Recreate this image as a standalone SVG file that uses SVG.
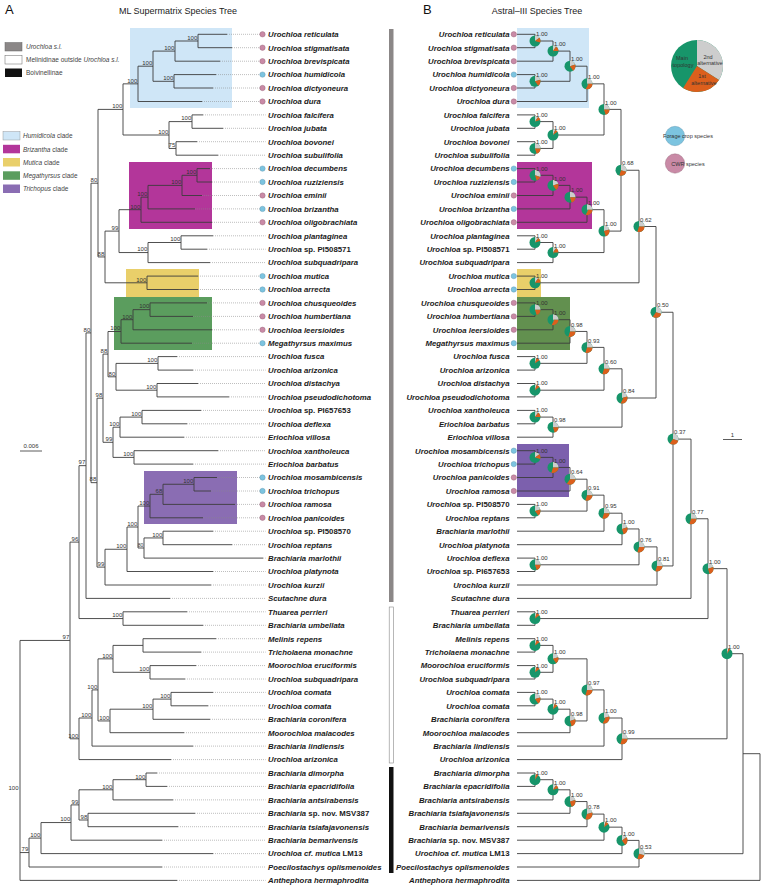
<svg xmlns="http://www.w3.org/2000/svg" width="763" height="885" viewBox="0 0 763 885">
<style>
text{font-family:"Liberation Sans",Arial,sans-serif}
.t{font-size:7.8px;font-weight:bold;font-style:italic;fill:#1a1a1a}
.e{text-anchor:end}
.n{font-style:normal}
.s{font-size:6px;fill:#333}
.lg{font-size:6.5px;fill:#444}
.lgi{font-style:italic}
.ti{font-size:9px;fill:#222;text-anchor:middle}
.big{font-size:13px;fill:#111}
.pl{font-size:5.5px;fill:#333;text-anchor:middle}
.br{fill:none;stroke:#3c3c3c;stroke-width:0.9}
.dot{fill:none;stroke:#8a8a8a;stroke-width:0.7;stroke-dasharray:0.8 1.2}
.cb{fill:#7cc4e0;stroke:#5a8fa8;stroke-width:0.4}
.cp{fill:#c98aa6;stroke:#8f5f74;stroke-width:0.4}
.pg{fill:#17956a}
.py{fill:none;stroke:#cdcdcd;stroke-width:5.5}
.po{fill:none;stroke:#dc5f1c;stroke-width:5.5}
.hum{fill:#cfe6f7}
.briz{fill:#b3369a}
.mut{fill:#e9cf6a}
.meg{fill:#5b9d5e}
.megr{fill:#62904f}
.tri{fill:#8a6db3}
.trir{fill:#7c60ad}
</style>

<!-- titles -->
<text class="big" x="5" y="14">A</text>
<text class="ti" x="178" y="14">ML Supermatrix Species Tree</text>
<text class="big" x="423" y="14">B</text>
<text class="ti" x="537" y="14">Astral–III Species Tree</text>

<!-- left legend -->
<g id="legend-groups">
<rect x="5" y="42.5" width="17" height="8.5" fill="#8b8787" stroke="#666" stroke-width="0.5"/>
<text class="lg lgi" x="26" y="49">Urochloa s.l.</text>
<rect x="5" y="55.5" width="17" height="8.5" fill="#fff" stroke="#666" stroke-width="0.5"/>
<text class="lg" x="26" y="62">Melinidinae outside <tspan class="lgi">Urochloa s.l.</tspan></text>
<rect x="5" y="68.5" width="17" height="8.5" fill="#111"/>
<text class="lg" x="26" y="75">Boivinellinae</text>
</g>
<g id="legend-clades">
<rect class="hum" x="3" y="131.5" width="17" height="8.5" stroke="#888" stroke-width="0.4"/>
<text class="lg" x="23" y="138.2"><tspan class="lgi">Humidicola</tspan> clade</text>
<rect class="briz" x="3" y="144.8" width="17" height="8.5"/>
<text class="lg" x="23" y="151.5"><tspan class="lgi">Brizantha</tspan> clade</text>
<rect class="mut" x="3" y="158" width="17" height="8.5"/>
<text class="lg" x="23" y="164.7"><tspan class="lgi">Mutica</tspan> clade</text>
<rect class="meg" x="3" y="171.3" width="17" height="8.5"/>
<text class="lg" x="23" y="178"><tspan class="lgi">Megathyrsus</tspan> clade</text>
<rect class="tri" x="3" y="184.5" width="17" height="8.5"/>
<text class="lg" x="23" y="191.2"><tspan class="lgi">Trichopus</tspan> clade</text>
</g>

<!-- scale bars -->
<g id="scale-left">
<text class="s" x="31" y="448" text-anchor="middle">0.006</text>
<line x1="20" y1="451" x2="42" y2="451" stroke="#333" stroke-width="0.8"/>
</g>
<g id="scale-right">
<text class="s" x="732.5" y="437" text-anchor="middle">1</text>
<line x1="723" y1="439.5" x2="742" y2="439.5" stroke="#333" stroke-width="0.8"/>
</g>

<!-- group bars -->
<g id="group-bars">
<rect x="389" y="29" width="4.5" height="573" fill="#8b8787"/>
<rect x="389.2" y="607" width="4.1" height="156" fill="#fff" stroke="#888" stroke-width="0.6"/>
<rect x="389" y="767" width="4.5" height="106" fill="#111"/>
</g>

<!-- clade boxes -->
<g id="clade-boxes">
<rect class="hum" x="130" y="28" width="102" height="80"/>
<rect class="briz" x="129" y="162" width="83" height="67"/>
<rect class="mut" x="126" y="269" width="73" height="28"/>
<rect class="meg" x="114" y="297" width="98" height="53"/>
<rect class="tri" x="144" y="471" width="93" height="53"/>
<rect class="hum" x="517" y="28" width="72" height="80"/>
<rect class="briz" x="517" y="162" width="75" height="67"/>
<rect class="mut" x="517" y="269" width="24" height="28"/>
<rect class="megr" x="517" y="297" width="53" height="53"/>
<rect class="trir" x="517" y="444" width="52" height="53"/>
</g>

<!-- connectors -->
<g id="connectors">
<path class="dot" d="M227 34.3H259.8M232 47.7H259.8M220 61.2H259.8M216 74.6H259.8M213 88H259.8M202 101.5H259.8M203 114.9H265.5M223 128.3H265.5M197 141.7H265.5M218 155.2H265.5M210 168.6H259.8M212 182H259.8M202 195.5H259.8M195 208.9H259.8M212 222.3H259.8M213 235.8H265.5M207 249.2H265.5M210 262.6H265.5M198 276.1H259.8M198 289.5H259.8M207 302.9H259.8M193 316.4H259.8M212 329.8H259.8M192 343.2H259.8M177 356.6H265.5M193 370.1H265.5M198 383.5H265.5M229 396.9H265.5M201 410.4H265.5M187 423.8H265.5M184 437.2H265.5M218 450.7H265.5M193 464.1H265.5M217 477.5H259.8M211 491H259.8M235 504.4H259.8M203 517.8H259.8M213 531.2H265.5M232 544.7H265.5M263 558.1H265.5M213 571.5H265.5M211 585H265.5M170 598.4H265.5M187 611.8H265.5M203 625.3H265.5M216 638.7H265.5M201 652.1H265.5M196 665.6H265.5M185 679H265.5M213 692.4H265.5M208 705.8H265.5M210 719.3H265.5M184 732.7H265.5M193 746.1H265.5M171 759.6H265.5M157 773H265.5M167 786.4H265.5M173 799.9H265.5M195 813.3H265.5M178 826.7H265.5M162 840.2H265.5M213 853.6H265.5M162 867H265.5M177 880.4H265.5"/>
<g id="left-branches" class="br">
<path d="M227 34.3H198V47.7H232"/>
<path d="M198 41H175V61.2H220"/>
<path d="M216 74.6H174V88H213"/>
<path d="M175 51.1H153V81.3H174"/>
<path d="M153 66.2H138V101.5H202"/>
<path d="M203 114.9H192V128.3H223"/>
<path d="M197 141.7H176V155.2H218"/>
<path d="M192 121.6H169V148.45H176"/>
<path d="M138 83.85H123V135H169"/>
<path d="M210 168.6H197V182H212"/>
<path d="M197 175.3H182V195.5H202"/>
<path d="M182 185.4H148V208.9H195"/>
<path d="M148 197.15H141V222.3H212"/>
<path d="M213 235.8H181V249.2H207"/>
<path d="M181 242.5H148V262.6H210"/>
<path d="M141 209.7H119V252.55H148"/>
<path d="M198 276.1H147V289.5H198"/>
<path d="M119 231.1H105V282.8H147"/>
<path d="M123 109.4H98V256.95H105"/>
<path d="M207 302.9H150V316.4H193"/>
<path d="M150 309.65H133V329.8H212"/>
<path d="M133 319.7H121V343.2H192"/>
<path d="M177 356.6H158V370.1H193"/>
<path d="M198 383.5H157V396.9H229"/>
<path d="M158 363.4H116V390.2H157"/>
<path d="M121 331.5H108V376.8H116"/>
<path d="M201 410.4H142V423.8H187"/>
<path d="M142 417.1H120V437.2H184"/>
<path d="M218 450.7H134V464.1H193"/>
<path d="M120 427.2H113V457.4H134"/>
<path d="M108 354.1H103V442.3H113"/>
<path d="M217 477.5H194V491H211"/>
<path d="M194 484.25H163V504.4H235"/>
<path d="M163 494.3H150V517.8H203"/>
<path d="M213 531.2H163V544.7H232"/>
<path d="M163 537.95H144V558.1H263"/>
<path d="M150 506.05H138V548H144"/>
<path d="M138 527H127V571.5H213"/>
<path d="M127 549.25H105V585H211"/>
<path d="M103 398.2H97V567.1H105"/>
<path d="M98 183.2H91V482.65H97"/>
<path d="M91 332.9H86V598.4H170"/>
<path d="M187 611.8H123V625.3H203"/>
<path d="M86 465.65H79V618.55H123"/>
<path d="M216 638.7H143V652.1H201"/>
<path d="M196 665.6H150V679H185"/>
<path d="M143 645.4H113V672.3H150"/>
<path d="M213 692.4H171V705.8H208"/>
<path d="M171 699.1H153V719.3H210"/>
<path d="M153 709.2H110V732.7H184"/>
<path d="M113 658.85H98V720.95H110"/>
<path d="M98 689.9H92V746.1H193"/>
<path d="M92 718H79V759.6H171"/>
<path d="M79 542.1H70V738.8H79"/>
<path d="M157 773H146V786.4H167"/>
<path d="M146 779.7H113V799.9H173"/>
<path d="M195 813.3H88V826.7H178"/>
<path d="M113 789.8H79V820H88"/>
<path d="M79 804.9H71V840.2H162"/>
<path d="M71 822.55H41V853.6H213"/>
<path d="M41 838.1H29V867H162"/>
<path d="M70 640.45H20V880.4H177M20 852.55H29"/>
</g>
<g id="right-branches" class="br">
<path d="M517 34.3H535V47.7H517"/>
<path d="M535 41H553V61.2H517"/>
<path d="M517 74.6H535V88H517"/>
<path d="M553 51.1H570V81.3H535"/>
<path d="M570 66.2H587V101.5H517"/>
<path d="M517 114.9H535V128.3H517"/>
<path d="M517 141.7H535V155.2H517"/>
<path d="M535 121.6H553V148.45H535"/>
<path d="M587 83.85H604V135H553"/>
<path d="M517 168.6H535V182H517"/>
<path d="M535 175.3H553V195.5H517"/>
<path d="M553 185.4H570V208.9H517"/>
<path d="M570 197.15H587V222.3H517"/>
<path d="M517 235.8H535V249.2H517"/>
<path d="M535 242.5H553V262.6H517"/>
<path d="M587 209.7H604V252.55H553"/>
<path d="M604 109.4H621V231.1H604"/>
<path d="M517 276.1H535V289.5H517"/>
<path d="M621 170.25H639V282.8H535"/>
<path d="M517 302.9H535V316.4H517"/>
<path d="M535 309.65H553V329.8H517"/>
<path d="M553 319.7H570V343.2H517"/>
<path d="M517 356.6H535V370.1H517"/>
<path d="M570 331.45H587V363.35H535"/>
<path d="M517 383.5H535V396.9H517"/>
<path d="M587 347.4H604V390.2H535"/>
<path d="M517 410.4H535V423.8H517"/>
<path d="M535 417.1H553V437.2H517"/>
<path d="M604 368.8H622V427.15H553"/>
<path d="M639 226.5H656V398H622"/>
<path d="M517 450.7H535V464.1H517"/>
<path d="M535 457.4H553V477.5H517"/>
<path d="M553 467.45H570V491H517"/>
<path d="M517 504.4H535V517.8H517"/>
<path d="M570 479.2H587V511.1H535"/>
<path d="M587 495.15H604V531.2H517"/>
<path d="M604 513.2H622V544.7H517"/>
<path d="M517 558.1H535V571.5H517"/>
<path d="M622 528.95H639V564.8H535"/>
<path d="M639 546.9H657V585H517"/>
<path d="M656 312.25H673V565.95H657"/>
<path d="M673 439.1H691V598.4H517"/>
<path d="M517 611.8H535V625.3H517"/>
<path d="M691 518.75H708V618.55H535"/>
<path d="M517 638.7H535V652.1H517"/>
<path d="M517 665.6H535V679H517"/>
<path d="M535 645.4H553V672.3H535"/>
<path d="M517 692.4H535V705.8H517"/>
<path d="M535 699.1H553V719.3H517"/>
<path d="M553 709.2H570V732.7H517"/>
<path d="M553 658.85H587V720.95H570"/>
<path d="M587 689.9H604V746.1H517"/>
<path d="M604 718H622V759.6H517"/>
<path d="M708 568.65H727V738.8H622"/>
<path d="M517 773H535V786.4H517"/>
<path d="M535 779.7H553V799.9H517"/>
<path d="M553 789.8H570V813.3H517"/>
<path d="M570 801.55H587V826.7H517"/>
<path d="M587 814.1H604V840.2H517"/>
<path d="M604 827.15H622V853.6H517"/>
<path d="M622 840.4H639V867H517"/>
<path d="M727 653.7H743V853.7H639"/>
<path d="M743 753.7H760V880.4H517"/>
</g>
</g>

<!-- left support values -->
<g id="left-support" class="s" text-anchor="end">
<text x="197.3" y="39.8">100</text>
<text x="174.3" y="49.9">100</text>
<text x="173.3" y="80.1">100</text>
<text x="152.3" y="65">100</text>
<text x="137.3" y="82.6">100</text>
<text x="191.3" y="120.4">100</text>
<text x="175.3" y="147.2">75</text>
<text x="168.3" y="133.8">100</text>
<text x="122.3" y="108.2">100</text>
<text x="196.3" y="174.1">100</text>
<text x="181.3" y="184.2">100</text>
<text x="147.3" y="196">100</text>
<text x="140.3" y="208.5">100</text>
<text x="180.3" y="241.3">100</text>
<text x="147.3" y="251.3">100</text>
<text x="118.3" y="229.9">99</text>
<text x="146.3" y="281.6">100</text>
<text x="104.3" y="255.7">88</text>
<text x="97.3" y="182">80</text>
<text x="149.3" y="308.4">100</text>
<text x="132.3" y="318.5">100</text>
<text x="120.3" y="330.3">100</text>
<text x="157.3" y="362.2">100</text>
<text x="156.3" y="389">100</text>
<text x="115.3" y="375.6">80</text>
<text x="107.3" y="352.9">88</text>
<text x="141.3" y="415.9">100</text>
<text x="119.3" y="426">100</text>
<text x="133.3" y="456.2">100</text>
<text x="112.3" y="441.1">99</text>
<text x="102.3" y="397">98</text>
<text x="193.3" y="483">100</text>
<text x="162.3" y="493.1">68</text>
<text x="149.3" y="504.8">100</text>
<text x="162.3" y="536.7">100</text>
<text x="143.3" y="546.8" font-size="5">80</text>
<text x="137.3" y="525.8">100</text>
<text x="126.3" y="548">100</text>
<text x="104.3" y="565.9">99</text>
<text x="96.3" y="481.4">88</text>
<text x="90.3" y="331.7">80</text>
<text x="85.3" y="464.4">97</text>
<text x="122.3" y="617.3">100</text>
<text x="78.3" y="540.9">96</text>
<text x="149.3" y="671.1">100</text>
<text x="112.3" y="657.6">100</text>
<text x="170.3" y="697.9">100</text>
<text x="152.3" y="708">100</text>
<text x="109.3" y="719.7">100</text>
<text x="97.3" y="688.7">100</text>
<text x="91.3" y="716.8">100</text>
<text x="78.3" y="737.6">100</text>
<text x="69.3" y="639.2">97</text>
<text x="145.3" y="778.5">100</text>
<text x="112.3" y="788.6">100</text>
<text x="87.3" y="818.8">98</text>
<text x="78.3" y="803.7">99</text>
<text x="70.3" y="821.3">100</text>
<text x="40.3" y="836.9">100</text>
<text x="28.3" y="851.3">79</text>
<text x="18.5" y="790">100</text>
</g>

<!-- left taxa -->
<g id="left-taxa">
<g id="L01"><circle class="cp" cx="262.5" cy="34.3" r="2.7"/><text class="t" x="268" y="37.1">Urochloa reticulata</text></g>
<g id="L02"><circle class="cp" cx="262.5" cy="47.7" r="2.7"/><text class="t" x="268" y="50.5">Urochloa stigmatisata</text></g>
<g id="L03"><circle class="cp" cx="262.5" cy="61.2" r="2.7"/><text class="t" x="268" y="64">Urochloa brevispicata</text></g>
<g id="L04"><circle class="cb" cx="262.5" cy="74.6" r="2.7"/><text class="t" x="268" y="77.4">Urochloa humidicola</text></g>
<g id="L05"><circle class="cp" cx="262.5" cy="88" r="2.7"/><text class="t" x="268" y="90.8">Urochloa dictyoneura</text></g>
<g id="L06"><circle class="cp" cx="262.5" cy="101.5" r="2.7"/><text class="t" x="268" y="104.3">Urochloa dura</text></g>
<g id="L07"><text class="t" x="268" y="117.7">Urochloa falcifera</text></g>
<g id="L08"><text class="t" x="268" y="131.1">Urochloa jubata</text></g>
<g id="L09"><text class="t" x="268" y="144.5">Urochloa bovonei</text></g>
<g id="L10"><text class="t" x="268" y="158">Urochloa subulifolia</text></g>
<g id="L11"><circle class="cb" cx="262.5" cy="168.6" r="2.7"/><text class="t" x="268" y="171.4">Urochloa decumbens</text></g>
<g id="L12"><circle class="cb" cx="262.5" cy="182" r="2.7"/><text class="t" x="268" y="184.8">Urochloa ruziziensis</text></g>
<g id="L13"><circle class="cp" cx="262.5" cy="195.5" r="2.7"/><text class="t" x="268" y="198.3">Urochloa eminii</text></g>
<g id="L14"><circle class="cb" cx="262.5" cy="208.9" r="2.7"/><text class="t" x="268" y="211.7">Urochloa brizantha</text></g>
<g id="L15"><circle class="cp" cx="262.5" cy="222.3" r="2.7"/><text class="t" x="268" y="225.1">Urochloa oligobrachiata</text></g>
<g id="L16"><text class="t" x="268" y="238.6">Urochloa plantaginea</text></g>
<g id="L17"><text class="t" x="268" y="252">Urochloa <tspan class="n">sp. PI508571</tspan></text></g>
<g id="L18"><text class="t" x="268" y="265.4">Urochloa subquadripara</text></g>
<g id="L19"><circle class="cb" cx="262.5" cy="276.1" r="2.7"/><text class="t" x="268" y="278.9">Urochloa mutica</text></g>
<g id="L20"><circle class="cb" cx="262.5" cy="289.5" r="2.7"/><text class="t" x="268" y="292.3">Urochloa arrecta</text></g>
<g id="L21"><circle class="cp" cx="262.5" cy="302.9" r="2.7"/><text class="t" x="268" y="305.7">Urochloa chusqueoides</text></g>
<g id="L22"><circle class="cp" cx="262.5" cy="316.4" r="2.7"/><text class="t" x="268" y="319.2">Urochloa humbertiana</text></g>
<g id="L23"><circle class="cp" cx="262.5" cy="329.8" r="2.7"/><text class="t" x="268" y="332.6">Urochloa leersioides</text></g>
<g id="L24"><circle class="cb" cx="262.5" cy="343.2" r="2.7"/><text class="t" x="268" y="346">Megathyrsus maximus</text></g>
<g id="L25"><text class="t" x="268" y="359.4">Urochloa fusca</text></g>
<g id="L26"><text class="t" x="268" y="372.9">Urochloa arizonica</text></g>
<g id="L27"><text class="t" x="268" y="386.3">Urochloa distachya</text></g>
<g id="L28"><text class="t" x="268" y="399.7">Urochloa pseudodichotoma</text></g>
<g id="L29"><text class="t" x="268" y="413.2">Urochloa <tspan class="n">sp. PI657653</tspan></text></g>
<g id="L30"><text class="t" x="268" y="426.6">Urochloa deflexa</text></g>
<g id="L31"><text class="t" x="268" y="440">Eriochloa villosa</text></g>
<g id="L32"><text class="t" x="268" y="453.5">Urochloa xantholeuca</text></g>
<g id="L33"><text class="t" x="268" y="466.9">Eriochloa barbatus</text></g>
<g id="L34"><circle class="cb" cx="262.5" cy="477.5" r="2.7"/><text class="t" x="268" y="480.3">Urochloa mosambicensis</text></g>
<g id="L35"><circle class="cb" cx="262.5" cy="491" r="2.7"/><text class="t" x="268" y="493.8">Urochloa trichopus</text></g>
<g id="L36"><circle class="cp" cx="262.5" cy="504.4" r="2.7"/><text class="t" x="268" y="507.2">Urochloa ramosa</text></g>
<g id="L37"><circle class="cp" cx="262.5" cy="517.8" r="2.7"/><text class="t" x="268" y="520.6">Urochloa panicoides</text></g>
<g id="L38"><text class="t" x="268" y="534">Urochloa <tspan class="n">sp. PI508570</tspan></text></g>
<g id="L39"><text class="t" x="268" y="547.5">Urochloa reptans</text></g>
<g id="L40"><text class="t" x="268" y="560.9">Brachiaria marlothii</text></g>
<g id="L41"><text class="t" x="268" y="574.3">Urochloa platynota</text></g>
<g id="L42"><text class="t" x="268" y="587.8">Urochloa kurzii</text></g>
<g id="L43"><text class="t" x="268" y="601.2">Scutachne dura</text></g>
<g id="L44"><text class="t" x="268" y="614.6">Thuarea perrieri</text></g>
<g id="L45"><text class="t" x="268" y="628.1">Brachiaria umbellata</text></g>
<g id="L46"><text class="t" x="268" y="641.5">Melinis repens</text></g>
<g id="L47"><text class="t" x="268" y="654.9">Tricholaena monachne</text></g>
<g id="L48"><text class="t" x="268" y="668.4">Moorochloa eruciformis</text></g>
<g id="L49"><text class="t" x="268" y="681.8">Urochloa subquadripara</text></g>
<g id="L50"><text class="t" x="268" y="695.2">Urochloa comata</text></g>
<g id="L51"><text class="t" x="268" y="708.6">Urochloa comata</text></g>
<g id="L52"><text class="t" x="268" y="722.1">Brachiaria coronifera</text></g>
<g id="L53"><text class="t" x="268" y="735.5">Moorochloa malacodes</text></g>
<g id="L54"><text class="t" x="268" y="748.9">Brachiaria lindiensis</text></g>
<g id="L55"><text class="t" x="268" y="762.4">Urochloa arizonica</text></g>
<g id="L56"><text class="t" x="268" y="775.8">Brachiaria dimorpha</text></g>
<g id="L57"><text class="t" x="268" y="789.2">Brachiaria epacridifolia</text></g>
<g id="L58"><text class="t" x="268" y="802.7">Brachiaria antsirabensis</text></g>
<g id="L59"><text class="t" x="268" y="816.1">Brachiaria <tspan class="n">sp. nov. MSV387</tspan></text></g>
<g id="L60"><text class="t" x="268" y="829.5">Brachiaria tsiafajavonensis</text></g>
<g id="L61"><text class="t" x="268" y="843">Brachiaria bemarivensis</text></g>
<g id="L62"><text class="t" x="268" y="856.4">Urochloa cf. mutica <tspan class="n">LM13</tspan></text></g>
<g id="L63"><text class="t" x="268" y="869.8">Poecilostachys oplismenoides</text></g>
<g id="L64"><text class="t" x="268" y="883.2">Anthephora hermaphrodita</text></g>
</g>

<!-- right taxa -->
<g id="right-taxa">
<g id="R01"><circle class="cp" cx="513.8" cy="34.3" r="2.7"/><text class="t e" x="509.5" y="37.1">Urochloa reticulata</text></g>
<g id="R02"><circle class="cp" cx="513.8" cy="47.7" r="2.7"/><text class="t e" x="509.5" y="50.5">Urochloa stigmatisata</text></g>
<g id="R03"><circle class="cp" cx="513.8" cy="61.2" r="2.7"/><text class="t e" x="509.5" y="64">Urochloa brevispicata</text></g>
<g id="R04"><circle class="cb" cx="513.8" cy="74.6" r="2.7"/><text class="t e" x="509.5" y="77.4">Urochloa humidicola</text></g>
<g id="R05"><circle class="cp" cx="513.8" cy="88" r="2.7"/><text class="t e" x="509.5" y="90.8">Urochloa dictyoneura</text></g>
<g id="R06"><circle class="cp" cx="513.8" cy="101.5" r="2.7"/><text class="t e" x="509.5" y="104.3">Urochloa dura</text></g>
<g id="R07"><text class="t e" x="509.5" y="117.7">Urochloa falcifera</text></g>
<g id="R08"><text class="t e" x="509.5" y="131.1">Urochloa jubata</text></g>
<g id="R09"><text class="t e" x="509.5" y="144.5">Urochloa bovonei</text></g>
<g id="R10"><text class="t e" x="509.5" y="158">Urochloa subulifolia</text></g>
<g id="R11"><circle class="cb" cx="513.8" cy="168.6" r="2.7"/><text class="t e" x="509.5" y="171.4">Urochloa decumbens</text></g>
<g id="R12"><circle class="cb" cx="513.8" cy="182" r="2.7"/><text class="t e" x="509.5" y="184.8">Urochloa ruziziensis</text></g>
<g id="R13"><circle class="cp" cx="513.8" cy="195.5" r="2.7"/><text class="t e" x="509.5" y="198.3">Urochloa eminii</text></g>
<g id="R14"><circle class="cb" cx="513.8" cy="208.9" r="2.7"/><text class="t e" x="509.5" y="211.7">Urochloa brizantha</text></g>
<g id="R15"><circle class="cp" cx="513.8" cy="222.3" r="2.7"/><text class="t e" x="509.5" y="225.1">Urochloa oligobrachiata</text></g>
<g id="R16"><text class="t e" x="509.5" y="238.6">Urochloa plantaginea</text></g>
<g id="R17"><text class="t e" x="509.5" y="252">Urochloa <tspan class="n">sp. PI508571</tspan></text></g>
<g id="R18"><text class="t e" x="509.5" y="265.4">Urochloa subquadripara</text></g>
<g id="R19"><circle class="cb" cx="513.8" cy="276.1" r="2.7"/><text class="t e" x="509.5" y="278.9">Urochloa mutica</text></g>
<g id="R20"><circle class="cb" cx="513.8" cy="289.5" r="2.7"/><text class="t e" x="509.5" y="292.3">Urochloa arrecta</text></g>
<g id="R21"><circle class="cp" cx="513.8" cy="302.9" r="2.7"/><text class="t e" x="509.5" y="305.7">Urochloa chusqueoides</text></g>
<g id="R22"><circle class="cp" cx="513.8" cy="316.4" r="2.7"/><text class="t e" x="509.5" y="319.2">Urochloa humbertiana</text></g>
<g id="R23"><circle class="cp" cx="513.8" cy="329.8" r="2.7"/><text class="t e" x="509.5" y="332.6">Urochloa leersioides</text></g>
<g id="R24"><circle class="cb" cx="513.8" cy="343.2" r="2.7"/><text class="t e" x="509.5" y="346">Megathyrsus maximus</text></g>
<g id="R25"><text class="t e" x="509.5" y="359.4">Urochloa fusca</text></g>
<g id="R26"><text class="t e" x="509.5" y="372.9">Urochloa arizonica</text></g>
<g id="R27"><text class="t e" x="509.5" y="386.3">Urochloa distachya</text></g>
<g id="R28"><text class="t e" x="509.5" y="399.7">Urochloa pseudodichotoma</text></g>
<g id="R29"><text class="t e" x="509.5" y="413.2">Urochloa xantholeuca</text></g>
<g id="R30"><text class="t e" x="509.5" y="426.6">Eriochloa barbatus</text></g>
<g id="R31"><text class="t e" x="509.5" y="440">Eriochloa villosa</text></g>
<g id="R32"><circle class="cb" cx="513.8" cy="450.7" r="2.7"/><text class="t e" x="509.5" y="453.5">Urochloa mosambicensis</text></g>
<g id="R33"><circle class="cb" cx="513.8" cy="464.1" r="2.7"/><text class="t e" x="509.5" y="466.9">Urochloa trichopus</text></g>
<g id="R34"><circle class="cp" cx="513.8" cy="477.5" r="2.7"/><text class="t e" x="509.5" y="480.3">Urochloa panicoides</text></g>
<g id="R35"><circle class="cp" cx="513.8" cy="491" r="2.7"/><text class="t e" x="509.5" y="493.8">Urochloa ramosa</text></g>
<g id="R36"><text class="t e" x="509.5" y="507.2">Urochloa <tspan class="n">sp. PI508570</tspan></text></g>
<g id="R37"><text class="t e" x="509.5" y="520.6">Urochloa reptans</text></g>
<g id="R38"><text class="t e" x="509.5" y="534">Brachiaria marlothii</text></g>
<g id="R39"><text class="t e" x="509.5" y="547.5">Urochloa platynota</text></g>
<g id="R40"><text class="t e" x="509.5" y="560.9">Urochloa deflexa</text></g>
<g id="R41"><text class="t e" x="509.5" y="574.3">Urochloa <tspan class="n">sp. PI657653</tspan></text></g>
<g id="R42"><text class="t e" x="509.5" y="587.8">Urochloa kurzii</text></g>
<g id="R43"><text class="t e" x="509.5" y="601.2">Scutachne dura</text></g>
<g id="R44"><text class="t e" x="509.5" y="614.6">Thuarea perrieri</text></g>
<g id="R45"><text class="t e" x="509.5" y="628.1">Brachiaria umbellata</text></g>
<g id="R46"><text class="t e" x="509.5" y="641.5">Melinis repens</text></g>
<g id="R47"><text class="t e" x="509.5" y="654.9">Tricholaena monachne</text></g>
<g id="R48"><text class="t e" x="509.5" y="668.4">Moorochloa eruciformis</text></g>
<g id="R49"><text class="t e" x="509.5" y="681.8">Urochloa subquadripara</text></g>
<g id="R50"><text class="t e" x="509.5" y="695.2">Urochloa comata</text></g>
<g id="R51"><text class="t e" x="509.5" y="708.6">Urochloa comata</text></g>
<g id="R52"><text class="t e" x="509.5" y="722.1">Brachiaria coronifera</text></g>
<g id="R53"><text class="t e" x="509.5" y="735.5">Moorochloa malacodes</text></g>
<g id="R54"><text class="t e" x="509.5" y="748.9">Brachiaria lindiensis</text></g>
<g id="R55"><text class="t e" x="509.5" y="762.4">Urochloa arizonica</text></g>
<g id="R56"><text class="t e" x="509.5" y="775.8">Brachiaria dimorpha</text></g>
<g id="R57"><text class="t e" x="509.5" y="789.2">Brachiaria epacridifolia</text></g>
<g id="R58"><text class="t e" x="509.5" y="802.7">Brachiaria antsirabensis</text></g>
<g id="R59"><text class="t e" x="509.5" y="816.1">Brachiaria tsiafajavonensis</text></g>
<g id="R60"><text class="t e" x="509.5" y="829.5">Brachiaria bemarivensis</text></g>
<g id="R61"><text class="t e" x="509.5" y="843">Brachiaria <tspan class="n">sp. nov. MSV387</tspan></text></g>
<g id="R62"><text class="t e" x="509.5" y="856.4">Urochloa cf. mutica <tspan class="n">LM13</tspan></text></g>
<g id="R63"><text class="t e" x="509.5" y="869.8">Poecilostachys oplismenoides</text></g>
<g id="R64"><text class="t e" x="509.5" y="883.2">Anthephora hermaphrodita</text></g>
</g>

<!-- right tree pies -->
<g id="pies">
<g id="pA1"><g transform="translate(535 41) rotate(-90)"><circle class="pg" r="5.5"/><circle class="py" r="2.75" pathLength="100" stroke-dasharray="15 100"/><circle class="po" r="2.75" pathLength="100" stroke-dasharray="0 15 15 100"/></g><text class="s" x="536" y="36.2">1.00</text></g>
<g id="pA2"><g transform="translate(553 51.1) rotate(-90)"><circle class="pg" r="5.5"/><circle class="py" r="2.75" pathLength="100" stroke-dasharray="10 100"/><circle class="po" r="2.75" pathLength="100" stroke-dasharray="0 10 15 100"/></g><text class="s" x="554" y="46.3">1.00</text></g>
<g id="pA3"><g transform="translate(535 81.3) rotate(-90)"><circle class="pg" r="5.5"/><circle class="py" r="2.75" pathLength="100" stroke-dasharray="20 100"/><circle class="po" r="2.75" pathLength="100" stroke-dasharray="0 20 20 100"/></g><text class="s" x="536" y="76.5">1.00</text></g>
<g id="pA4"><g transform="translate(570 66.2) rotate(-90)"><circle class="pg" r="5.5"/><circle class="py" r="2.75" pathLength="100" stroke-dasharray="20 100"/><circle class="po" r="2.75" pathLength="100" stroke-dasharray="0 20 20 100"/></g><text class="s" x="571" y="61.4">1.00</text></g>
<g id="pA5"><g transform="translate(587 83.85) rotate(-90)"><circle class="pg" r="5.5"/><circle class="py" r="2.75" pathLength="100" stroke-dasharray="25 100"/><circle class="po" r="2.75" pathLength="100" stroke-dasharray="0 25 25 100"/></g><text class="s" x="588" y="79">1.00</text></g>
<g id="pB1"><g transform="translate(535 121.6) rotate(-90)"><circle class="pg" r="5.5"/><circle class="py" r="2.75" pathLength="100" stroke-dasharray="10 100"/><circle class="po" r="2.75" pathLength="100" stroke-dasharray="0 10 10 100"/></g><text class="s" x="536" y="116.8">1.00</text></g>
<g id="pB2"><g transform="translate(535 148.45) rotate(-90)"><circle class="pg" r="5.5"/><circle class="py" r="2.75" pathLength="100" stroke-dasharray="25 100"/><circle class="po" r="2.75" pathLength="100" stroke-dasharray="0 25 20 100"/></g><text class="s" x="536" y="143.6">1.00</text></g>
<g id="pB3"><g transform="translate(553 135) rotate(-90)"><circle class="pg" r="5.5"/><circle class="py" r="2.75" pathLength="100" stroke-dasharray="7 100"/><circle class="po" r="2.75" pathLength="100" stroke-dasharray="0 7 8 100"/></g><text class="s" x="554" y="130.2">1.00</text></g>
<g id="pC1"><g transform="translate(604 109.4) rotate(-90)"><circle class="pg" r="5.5"/><circle class="py" r="2.75" pathLength="100" stroke-dasharray="25 100"/><circle class="po" r="2.75" pathLength="100" stroke-dasharray="0 25 20 100"/></g><text class="s" x="605" y="104.6">1.00</text></g>
<g id="pD"><g transform="translate(621 170.25) rotate(-90)"><circle class="pg" r="5.5"/><circle class="py" r="2.75" pathLength="100" stroke-dasharray="30 100"/><circle class="po" r="2.75" pathLength="100" stroke-dasharray="0 30 25 100"/></g><text class="s" x="622" y="165.4">0.68</text></g>
<g id="pE1"><g transform="translate(535 175.3) rotate(-90)"><circle class="pg" r="5.5"/><circle class="py" r="2.75" pathLength="100" stroke-dasharray="30 100"/><circle class="po" r="2.75" pathLength="100" stroke-dasharray="0 30 15 100"/></g><text class="s" x="536" y="170.5">1.00</text></g>
<g id="pE2"><g transform="translate(553 185.4) rotate(-90)"><circle class="pg" r="5.5"/><circle class="py" r="2.75" pathLength="100" stroke-dasharray="20 100"/><circle class="po" r="2.75" pathLength="100" stroke-dasharray="0 20 20 100"/></g><text class="s" x="554" y="180.6">1.00</text></g>
<g id="pE3"><g transform="translate(570 197.15) rotate(-90)"><circle class="pg" r="5.5"/><circle class="py" r="2.75" pathLength="100" stroke-dasharray="25 100"/><circle class="po" r="2.75" pathLength="100" stroke-dasharray="0 25 20 100"/></g><text class="s" x="571" y="192.3">1.00</text></g>
<g id="pE4"><g transform="translate(587 209.7) rotate(-90)"><circle class="pg" r="5.5"/><circle class="py" r="2.75" pathLength="100" stroke-dasharray="25 100"/><circle class="po" r="2.75" pathLength="100" stroke-dasharray="0 25 25 100"/></g><text class="s" x="588" y="204.9">1.00</text></g>
<g id="pF1"><g transform="translate(535 242.5) rotate(-90)"><circle class="pg" r="5.5"/><circle class="py" r="2.75" pathLength="100" stroke-dasharray="10 100"/><circle class="po" r="2.75" pathLength="100" stroke-dasharray="0 10 10 100"/></g><text class="s" x="536" y="237.7">1.00</text></g>
<g id="pF2"><g transform="translate(553 252.55) rotate(-90)"><circle class="pg" r="5.5"/><circle class="py" r="2.75" pathLength="100" stroke-dasharray="10 100"/><circle class="po" r="2.75" pathLength="100" stroke-dasharray="0 10 15 100"/></g><text class="s" x="554" y="247.7">1.00</text></g>
<g id="pG"><g transform="translate(604 231.1) rotate(-90)"><circle class="pg" r="5.5"/><circle class="py" r="2.75" pathLength="100" stroke-dasharray="20 100"/><circle class="po" r="2.75" pathLength="100" stroke-dasharray="0 20 25 100"/></g><text class="s" x="605" y="226.3">1.00</text></g>
<g id="pH"><g transform="translate(535 282.8) rotate(-90)"><circle class="pg" r="5.5"/><circle class="py" r="2.75" pathLength="100" stroke-dasharray="10 100"/><circle class="po" r="2.75" pathLength="100" stroke-dasharray="0 10 15 100"/></g><text class="s" x="536" y="278">1.00</text></g>
<g id="pI"><g transform="translate(639 226.5) rotate(-90)"><circle class="pg" r="5.5"/><circle class="py" r="2.75" pathLength="100" stroke-dasharray="25 100"/><circle class="po" r="2.75" pathLength="100" stroke-dasharray="0 25 30 100"/></g><text class="s" x="640" y="221.7">0.62</text></g>
<g id="pJ1"><g transform="translate(535 309.65) rotate(-90)"><circle class="pg" r="5.5"/><circle class="py" r="2.75" pathLength="100" stroke-dasharray="25 100"/><circle class="po" r="2.75" pathLength="100" stroke-dasharray="0 25 20 100"/></g><text class="s" x="536" y="304.8">1.00</text></g>
<g id="pJ2"><g transform="translate(553 319.7) rotate(-90)"><circle class="pg" r="5.5"/><circle class="py" r="2.75" pathLength="100" stroke-dasharray="25 100"/><circle class="po" r="2.75" pathLength="100" stroke-dasharray="0 25 25 100"/></g><text class="s" x="554" y="314.9">1.00</text></g>
<g id="pJ3"><g transform="translate(570 331.45) rotate(-90)"><circle class="pg" r="5.5"/><circle class="py" r="2.75" pathLength="100" stroke-dasharray="25 100"/><circle class="po" r="2.75" pathLength="100" stroke-dasharray="0 25 30 100"/></g><text class="s" x="571" y="326.6">0.98</text></g>
<g id="pK"><g transform="translate(587 347.4) rotate(-90)"><circle class="pg" r="5.5"/><circle class="py" r="2.75" pathLength="100" stroke-dasharray="25 100"/><circle class="po" r="2.75" pathLength="100" stroke-dasharray="0 25 30 100"/></g><text class="s" x="588" y="342.6">0.93</text></g>
<g id="pL1"><g transform="translate(535 363.35) rotate(-90)"><circle class="pg" r="5.5"/><circle class="py" r="2.75" pathLength="100" stroke-dasharray="5 100"/><circle class="po" r="2.75" pathLength="100" stroke-dasharray="0 5 10 100"/></g><text class="s" x="536" y="358.5">1.00</text></g>
<g id="pL2"><g transform="translate(535 390.2) rotate(-90)"><circle class="pg" r="5.5"/><circle class="py" r="2.75" pathLength="100" stroke-dasharray="5 100"/><circle class="po" r="2.75" pathLength="100" stroke-dasharray="0 5 10 100"/></g><text class="s" x="536" y="385.4">1.00</text></g>
<g id="pM"><g transform="translate(604 368.8) rotate(-90)"><circle class="pg" r="5.5"/><circle class="py" r="2.75" pathLength="100" stroke-dasharray="25 100"/><circle class="po" r="2.75" pathLength="100" stroke-dasharray="0 25 30 100"/></g><text class="s" x="605" y="364">0.60</text></g>
<g id="pN1"><g transform="translate(535 417.1) rotate(-90)"><circle class="pg" r="5.5"/><circle class="py" r="2.75" pathLength="100" stroke-dasharray="10 100"/><circle class="po" r="2.75" pathLength="100" stroke-dasharray="0 10 15 100"/></g><text class="s" x="536" y="412.3">1.00</text></g>
<g id="pN2"><g transform="translate(553 427.15) rotate(-90)"><circle class="pg" r="5.5"/><circle class="py" r="2.75" pathLength="100" stroke-dasharray="25 100"/><circle class="po" r="2.75" pathLength="100" stroke-dasharray="0 25 20 100"/></g><text class="s" x="554" y="422.3">0.98</text></g>
<g id="pO"><g transform="translate(622 398) rotate(-90)"><circle class="pg" r="5.5"/><circle class="py" r="2.75" pathLength="100" stroke-dasharray="20 100"/><circle class="po" r="2.75" pathLength="100" stroke-dasharray="0 20 30 100"/></g><text class="s" x="623" y="393.2">0.84</text></g>
<g id="pP"><g transform="translate(656 312.25) rotate(-90)"><circle class="pg" r="5.5"/><circle class="py" r="2.75" pathLength="100" stroke-dasharray="30 100"/><circle class="po" r="2.75" pathLength="100" stroke-dasharray="0 30 30 100"/></g><text class="s" x="657" y="307.4">0.50</text></g>
<g id="pQ1"><g transform="translate(535 457.4) rotate(-90)"><circle class="pg" r="5.5"/><circle class="py" r="2.75" pathLength="100" stroke-dasharray="15 100"/><circle class="po" r="2.75" pathLength="100" stroke-dasharray="0 15 15 100"/></g><text class="s" x="536" y="452.6">1.00</text></g>
<g id="pQ2"><g transform="translate(553 467.45) rotate(-90)"><circle class="pg" r="5.5"/><circle class="py" r="2.75" pathLength="100" stroke-dasharray="25 100"/><circle class="po" r="2.75" pathLength="100" stroke-dasharray="0 25 30 100"/></g><text class="s" x="554" y="462.6">1.00</text></g>
<g id="pQ3"><g transform="translate(570 479.2) rotate(-90)"><circle class="pg" r="5.5"/><circle class="py" r="2.75" pathLength="100" stroke-dasharray="25 100"/><circle class="po" r="2.75" pathLength="100" stroke-dasharray="0 25 35 100"/></g><text class="s" x="571" y="474.4">0.64</text></g>
<g id="pR1"><g transform="translate(535 511.1) rotate(-90)"><circle class="pg" r="5.5"/><circle class="py" r="2.75" pathLength="100" stroke-dasharray="20 100"/><circle class="po" r="2.75" pathLength="100" stroke-dasharray="0 20 20 100"/></g><text class="s" x="536" y="506.3">1.00</text></g>
<g id="pR2"><g transform="translate(587 495.15) rotate(-90)"><circle class="pg" r="5.5"/><circle class="py" r="2.75" pathLength="100" stroke-dasharray="25 100"/><circle class="po" r="2.75" pathLength="100" stroke-dasharray="0 25 30 100"/></g><text class="s" x="588" y="490.3">0.91</text></g>
<g id="pR3"><g transform="translate(604 513.2) rotate(-90)"><circle class="pg" r="5.5"/><circle class="py" r="2.75" pathLength="100" stroke-dasharray="25 100"/><circle class="po" r="2.75" pathLength="100" stroke-dasharray="0 25 30 100"/></g><text class="s" x="605" y="508.4">0.95</text></g>
<g id="pR4"><g transform="translate(622 528.95) rotate(-90)"><circle class="pg" r="5.5"/><circle class="py" r="2.75" pathLength="100" stroke-dasharray="20 100"/><circle class="po" r="2.75" pathLength="100" stroke-dasharray="0 20 25 100"/></g><text class="s" x="623" y="524.1">1.00</text></g>
<g id="pS"><g transform="translate(535 564.8) rotate(-90)"><circle class="pg" r="5.5"/><circle class="py" r="2.75" pathLength="100" stroke-dasharray="25 100"/><circle class="po" r="2.75" pathLength="100" stroke-dasharray="0 25 20 100"/></g><text class="s" x="536" y="560">1.00</text></g>
<g id="pR5"><g transform="translate(639 546.9) rotate(-90)"><circle class="pg" r="5.5"/><circle class="py" r="2.75" pathLength="100" stroke-dasharray="25 100"/><circle class="po" r="2.75" pathLength="100" stroke-dasharray="0 25 30 100"/></g><text class="s" x="640" y="542.1">0.76</text></g>
<g id="pR6"><g transform="translate(657 565.95) rotate(-90)"><circle class="pg" r="5.5"/><circle class="py" r="2.75" pathLength="100" stroke-dasharray="25 100"/><circle class="po" r="2.75" pathLength="100" stroke-dasharray="0 25 30 100"/></g><text class="s" x="658" y="561.1">0.81</text></g>
<g id="pT"><g transform="translate(673 439.1) rotate(-90)"><circle class="pg" r="5.5"/><circle class="py" r="2.75" pathLength="100" stroke-dasharray="30 100"/><circle class="po" r="2.75" pathLength="100" stroke-dasharray="0 30 30 100"/></g><text class="s" x="674" y="434.3">0.37</text></g>
<g id="pU"><g transform="translate(691 518.75) rotate(-90)"><circle class="pg" r="5.5"/><circle class="py" r="2.75" pathLength="100" stroke-dasharray="25 100"/><circle class="po" r="2.75" pathLength="100" stroke-dasharray="0 25 30 100"/></g><text class="s" x="692" y="513.9">0.77</text></g>
<g id="pV1"><g transform="translate(535 618.55) rotate(-90)"><circle class="pg" r="5.5"/><circle class="py" r="2.75" pathLength="100" stroke-dasharray="5 100"/><circle class="po" r="2.75" pathLength="100" stroke-dasharray="0 5 10 100"/></g><text class="s" x="536" y="613.7">1.00</text></g>
<g id="pW"><g transform="translate(708 568.65) rotate(-90)"><circle class="pg" r="5.5"/><circle class="py" r="2.75" pathLength="100" stroke-dasharray="20 100"/><circle class="po" r="2.75" pathLength="100" stroke-dasharray="0 20 25 100"/></g><text class="s" x="709" y="563.8">1.00</text></g>
<g id="pX1"><g transform="translate(535 645.4) rotate(-90)"><circle class="pg" r="5.5"/><circle class="py" r="2.75" pathLength="100" stroke-dasharray="5 100"/><circle class="po" r="2.75" pathLength="100" stroke-dasharray="0 5 10 100"/></g><text class="s" x="536" y="640.6">1.00</text></g>
<g id="pX2"><g transform="translate(535 672.3) rotate(-90)"><circle class="pg" r="5.5"/><circle class="py" r="2.75" pathLength="100" stroke-dasharray="5 100"/><circle class="po" r="2.75" pathLength="100" stroke-dasharray="0 5 10 100"/></g><text class="s" x="536" y="667.5">1.00</text></g>
<g id="pX3"><g transform="translate(553 658.85) rotate(-90)"><circle class="pg" r="5.5"/><circle class="py" r="2.75" pathLength="100" stroke-dasharray="20 100"/><circle class="po" r="2.75" pathLength="100" stroke-dasharray="0 20 20 100"/></g><text class="s" x="554" y="654">1.00</text></g>
<g id="pY1"><g transform="translate(535 699.1) rotate(-90)"><circle class="pg" r="5.5"/><circle class="py" r="2.75" pathLength="100" stroke-dasharray="20 100"/><circle class="po" r="2.75" pathLength="100" stroke-dasharray="0 20 20 100"/></g><text class="s" x="536" y="694.3">1.00</text></g>
<g id="pY2"><g transform="translate(553 709.2) rotate(-90)"><circle class="pg" r="5.5"/><circle class="py" r="2.75" pathLength="100" stroke-dasharray="5 100"/><circle class="po" r="2.75" pathLength="100" stroke-dasharray="0 5 10 100"/></g><text class="s" x="554" y="704.4">1.00</text></g>
<g id="pY3"><g transform="translate(570 720.95) rotate(-90)"><circle class="pg" r="5.5"/><circle class="py" r="2.75" pathLength="100" stroke-dasharray="20 100"/><circle class="po" r="2.75" pathLength="100" stroke-dasharray="0 20 25 100"/></g><text class="s" x="571" y="716.1">0.98</text></g>
<g id="pY4"><g transform="translate(587 689.9) rotate(-90)"><circle class="pg" r="5.5"/><circle class="py" r="2.75" pathLength="100" stroke-dasharray="25 100"/><circle class="po" r="2.75" pathLength="100" stroke-dasharray="0 25 30 100"/></g><text class="s" x="588" y="685.1">0.97</text></g>
<g id="pY5"><g transform="translate(604 718) rotate(-90)"><circle class="pg" r="5.5"/><circle class="py" r="2.75" pathLength="100" stroke-dasharray="20 100"/><circle class="po" r="2.75" pathLength="100" stroke-dasharray="0 20 30 100"/></g><text class="s" x="605" y="713.2">1.00</text></g>
<g id="pY6"><g transform="translate(622 738.8) rotate(-90)"><circle class="pg" r="5.5"/><circle class="py" r="2.75" pathLength="100" stroke-dasharray="25 100"/><circle class="po" r="2.75" pathLength="100" stroke-dasharray="0 25 30 100"/></g><text class="s" x="623" y="734">0.99</text></g>
<g id="pZ"><g transform="translate(727 653.7) rotate(-90)"><circle class="pg" r="5.5"/><circle class="py" r="2.75" pathLength="100" stroke-dasharray="5 100"/><circle class="po" r="2.75" pathLength="100" stroke-dasharray="0 5 5 100"/></g><text class="s" x="728" y="648.9">1.00</text></g>
<g id="pb1"><g transform="translate(535 779.7) rotate(-90)"><circle class="pg" r="5.5"/><circle class="py" r="2.75" pathLength="100" stroke-dasharray="3 100"/><circle class="po" r="2.75" pathLength="100" stroke-dasharray="0 3 7 100"/></g><text class="s" x="536" y="774.9">1.00</text></g>
<g id="pb2"><g transform="translate(553 789.8) rotate(-90)"><circle class="pg" r="5.5"/><circle class="py" r="2.75" pathLength="100" stroke-dasharray="10 100"/><circle class="po" r="2.75" pathLength="100" stroke-dasharray="0 10 10 100"/></g><text class="s" x="554" y="785">1.00</text></g>
<g id="pb3"><g transform="translate(570 801.55) rotate(-90)"><circle class="pg" r="5.5"/><circle class="py" r="2.75" pathLength="100" stroke-dasharray="20 100"/><circle class="po" r="2.75" pathLength="100" stroke-dasharray="0 20 25 100"/></g><text class="s" x="571" y="796.7">1.00</text></g>
<g id="pb4"><g transform="translate(587 814.1) rotate(-90)"><circle class="pg" r="5.5"/><circle class="py" r="2.75" pathLength="100" stroke-dasharray="20 100"/><circle class="po" r="2.75" pathLength="100" stroke-dasharray="0 20 35 100"/></g><text class="s" x="588" y="809.3">0.78</text></g>
<g id="pb5"><g transform="translate(604 827.15) rotate(-90)"><circle class="pg" r="5.5"/><circle class="py" r="2.75" pathLength="100" stroke-dasharray="5 100"/><circle class="po" r="2.75" pathLength="100" stroke-dasharray="0 5 10 100"/></g><text class="s" x="605" y="822.3">1.00</text></g>
<g id="pb6"><g transform="translate(622 840.4) rotate(-90)"><circle class="pg" r="5.5"/><circle class="py" r="2.75" pathLength="100" stroke-dasharray="15 100"/><circle class="po" r="2.75" pathLength="100" stroke-dasharray="0 15 25 100"/></g><text class="s" x="623" y="835.6">1.00</text></g>
<g id="pb7"><g transform="translate(639 853.7) rotate(-90)"><circle class="pg" r="5.5"/><circle class="py" r="2.75" pathLength="100" stroke-dasharray="30 100"/><circle class="po" r="2.75" pathLength="100" stroke-dasharray="0 30 25 100"/></g><text class="s" x="640" y="848.9">0.53</text></g>
</g>

<!-- right legend -->
<g id="legend-pie">
<g transform="translate(697 66) rotate(-90)"><circle class="pg" r="26"/><circle fill="none" stroke="#cdcdcd" stroke-width="26" r="13" pathLength="100" stroke-dasharray="34 100"/><circle fill="none" stroke="#dc5f1c" stroke-width="26" r="13" pathLength="100" stroke-dasharray="0 34 25 100"/></g>
<text class="pl" x="682" y="60">Main</text>
<text class="pl" x="683" y="67">topology</text>
<text class="pl" x="708" y="58.5">2nd</text>
<text class="pl" x="710" y="65">alternative</text>
<text class="pl" x="702" y="78">1st</text>
<text class="pl" x="704" y="84.5">alternative</text>
</g>
<g id="legend-forage">
<circle class="cb" cx="675" cy="136" r="9.7"/>
<text class="pl" x="688" y="138" text-anchor="start">Forage crop species</text>
</g>
<g id="legend-cwr">
<circle class="cp" cx="675" cy="163.5" r="9.7"/>
<text class="pl" x="688" y="165.5" text-anchor="start">CWR species</text>
</g>
</svg>
